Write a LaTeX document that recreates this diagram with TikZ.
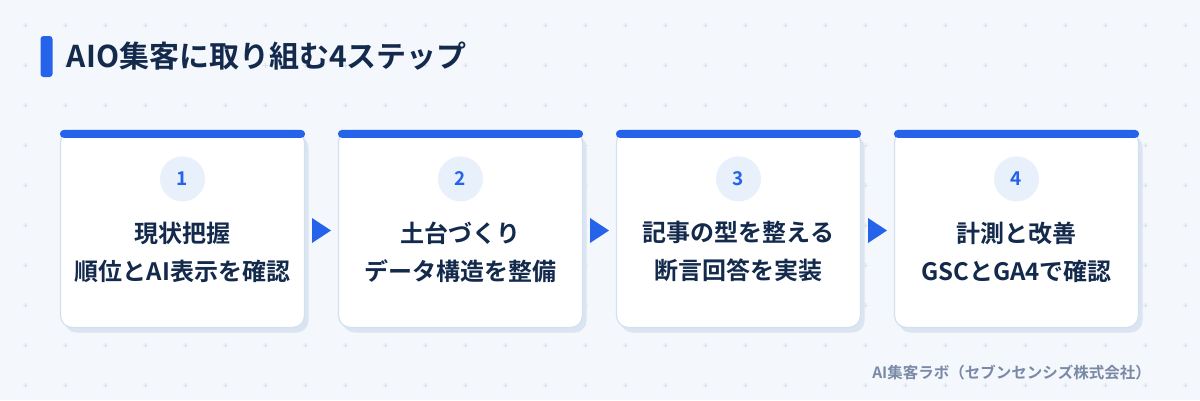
\documentclass[tikz,border=0pt]{standalone}
\usepackage{fontspec}
\setmainfont{Noto Sans CJK JP}[BoldFont={* Bold}]
\usetikzlibrary{calc,shadows}
\definecolor{pagebg}{HTML}{F4F7FC}
\definecolor{gridc}{HTML}{DCE3EE}
\definecolor{accent}{HTML}{2563EB}
\definecolor{ink}{HTML}{132A4C}
\definecolor{cardline}{HTML}{D5E0EF}
\definecolor{shadowc}{HTML}{DBE4F1}
\definecolor{numbg}{HTML}{E8F0FC}
\definecolor{muted}{HTML}{7A8AA6}

\begin{document}
\begin{tikzpicture}[x=1pt,y=-1pt,
    card/.style={minimum width=244pt,minimum height=197pt,inner sep=0pt,fill=white,draw=cardline,line width=1.2pt,rounded corners=12pt,
        drop shadow={shadow xshift=4pt,shadow yshift=-5pt,fill=shadowc,opacity=1}},
    topbar/.style={fill=accent,rounded corners=4pt},
    num/.style={circle,fill=numbg,minimum size=45pt,inner sep=0pt,text=accent,font={\bfseries\fontsize{19}{19}\selectfont}},
    label/.style={align=center,text=ink,font={\bfseries\fontsize{24}{38}\selectfont}},
    nextarrow/.style={fill=accent}]
    \useasboundingbox (0,0) rectangle (1200,400);
    \fill[pagebg] (0,0) rectangle (1200,400);

    % dotted grid
    \foreach \gx in {25,65,...,1185}
        \foreach \gy in {25,65,...,385}
            \draw[gridc,line width=0.8pt] (\gx-2.5,\gy) -- (\gx+2.5,\gy) (\gx,\gy-2.5) -- (\gx,\gy+2.5);

    % heading
    \node[fill=accent,rounded corners=3pt,minimum width=12pt,minimum height=41pt,inner sep=0pt] (tbar) at (46.5,56.5) {};
    \node[anchor=west,text=ink,font={\bfseries\fontsize{30}{30}\selectfont},inner sep=0pt] (title) at ($ (tbar.east) + (14,0) $) {AIO集客に取り組む4ステップ};

    % step cards
    \node[card] (c1) at (182.5,229) {};
    \node[card] (c2) at ($ (c1) + (278,0) $) {};
    \node[card] (c3) at ($ (c2) + (278,0) $) {};
    \node[card] (c4) at ($ (c3) + (278,0) $) {};

    \foreach \c in {c1,c2,c3,c4}
        \fill[topbar] (\c.north west) rectangle ($ (\c.north east) + (0,8) $);

    \node[num] (n1) at ($ (c1.north) + (0,49) $) {1};
    \node[num] (n2) at ($ (c2.north) + (0,49) $) {2};
    \node[num] (n3) at ($ (c3.north) + (0,49) $) {3};
    \node[num] (n4) at ($ (c4.north) + (0,49) $) {4};

    \node[label] (t1) at ($ (c1.north) + (0,122) $) {現状把握\\順位とAI表示を確認};
    \node[label] (t2) at ($ (c2.north) + (0,122) $) {土台づくり\\データ構造を整備};
    \node[label] (t3) at ($ (c3.north) + (0,122) $) {記事の型を整える\\断言回答を実装};
    \node[label] (t4) at ($ (c4.north) + (0,122) $) {計測と改善\\GSCとGA4で確認};

    % arrows between cards
    \coordinate (m12) at ($ (c1.east)!0.5!(c2.west) + (0,1.5) $);
    \coordinate (m23) at ($ (c2.east)!0.5!(c3.west) + (0,1.5) $);
    \coordinate (m34) at ($ (c3.east)!0.5!(c4.west) + (0,1.5) $);
    \foreach \m in {m12,m23,m34}
        \fill[nextarrow] ($ (\m) + (-9.5,-12.5) $) -- ($ (\m) + (9.5,0) $) -- ($ (\m) + (-9.5,12.5) $) -- cycle;

    % credit
    \node[anchor=east,text=muted,font={\bfseries\fontsize{15.5}{15.5}\selectfont},inner sep=0pt] (credit) at (1151,373) {AI集客ラボ（セブンセンシズ株式会社）};
\end{tikzpicture}
\end{document}
